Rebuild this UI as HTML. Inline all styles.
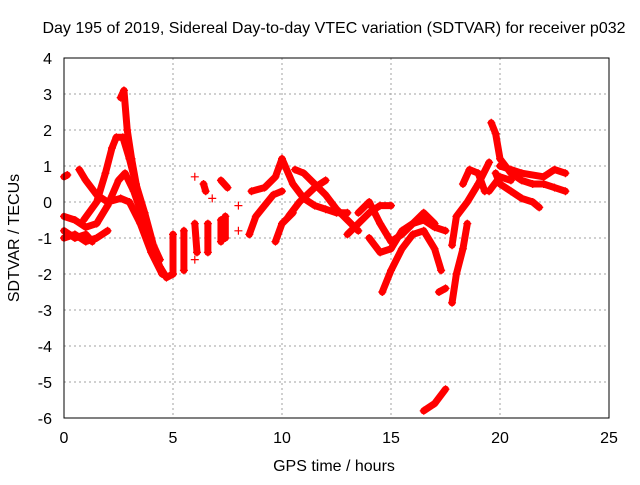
<!DOCTYPE html>
<html><head><meta charset="utf-8"><style>
body{margin:0;background:#fff}
svg text{font-family:"Liberation Sans",sans-serif;font-size:16px;fill:#000}
</style></head><body>
<svg id="chart" width="640" height="480" xmlns="http://www.w3.org/2000/svg">
<rect width="640" height="480" fill="#fff"/>
<g id="grid"></g>
<g id="marks"></g>
<rect x="64" y="58" width="545" height="360" fill="none" stroke="#000" stroke-width="1"/>
<g id="ticks"></g>
<text x="334" y="33" text-anchor="middle">Day 195 of 2019, Sidereal Day-to-day VTEC variation (SDTVAR) for receiver p032</text>
<text x="334" y="471" text-anchor="middle">GPS time / hours</text>
<text x="19" y="238" text-anchor="middle" transform="rotate(-90 19 238)">SDTVAR / TECUs</text>
</svg>
<script>
const xTicks=[0,5,10,15,20,25];
const yTicks=[4,3,2,1,0,-1,-2,-3,-4,-5,-6];
const tracks=[
[[0,-0.4],[0.5,-0.5],[1,-0.7],[1.5,-0.6],[2,-0.1],[2.5,0.6],[2.8,0.8],[3.2,0.3],[3.6,-0.4],[4,-1.2],[4.4,-1.8],[4.7,-2.1],[5,-2.0]],
[[0,-1.0],[0.5,-0.9],[1,-1.1],[1.5,-1.0],[2,-0.8]],
[[0,-0.8],[0.5,-1.0],[1,-0.9],[1.3,-1.1]],
[[0.7,0.9],[1,0.6],[1.5,0.2],[2,0.0],[2.6,0.1],[3,0],[3.5,-0.6],[4,-1.4],[4.5,-2.0]],
[[0.9,-0.5],[1.5,0.0],[1.9,0.8],[2.2,1.5],[2.4,1.8],[2.7,1.8],[3.0,1.2],[3.3,0.5],[3.7,-0.3],[4.1,-1.2],[4.4,-1.6]],
[[2.6,2.9],[2.75,3.1],[2.9,2.0],[3.1,1.2],[3.4,0.2],[3.8,-0.8],[4.2,-1.5]],
[[0,0.7],[0.15,0.75]],
[[5.0,-0.9],[5.0,-2.0]],[[5.5,-0.8],[5.5,-1.9]],[[6.0,-0.6],[6.1,-1.4]],[[6.6,-0.6],[6.6,-1.4]],[[7.2,-0.5],[7.2,-1.1]],[[7.4,-0.4],[7.4,-1.0]],
[[6.0,0.7]],[[6.4,0.5],[6.5,0.3]],[[7.2,0.6],[7.5,0.4]],[[6.8,0.1]],[[8,-0.1]],[[8,-0.8]],[[6,-1.6]],
[[8.5,-0.9],[8.8,-0.4],[9.2,-0.1],[9.6,0.2],[10,0.3]],
[[8.6,0.3],[9.2,0.4],[9.7,0.7],[10,1.2]],
[[9.7,-1.1],[10,-0.6],[10.5,-0.3]],
[[10,1.2],[10.5,0.5],[11,0.1],[11.5,-0.1],[12,-0.2],[12.5,-0.3],[13,-0.3]],
[[10.6,0.9],[11,0.8],[11.5,0.5],[12,0.2],[12.5,-0.2],[13,-0.5],[13.5,-0.8]],
[[10.3,-0.4],[10.8,0],[11.5,0.4],[12,0.6]],
[[13,-0.9],[13.5,-0.6],[14,-0.3],[14.5,-0.1],[15,-0.1]],
[[13.5,-0.3],[14,0],[14.5,-0.6],[15,-1.1],[15.5,-0.9],[16,-0.6],[16.5,-0.5],[17,-0.7],[17.5,-0.8]],
[[14,-1.0],[14.5,-1.4],[15,-1.3],[15.5,-0.8],[16,-0.6],[16.5,-0.3],[17,-0.6]],
[[14.6,-2.5],[15,-1.9],[15.5,-1.3],[16,-0.9],[16.5,-0.8],[17,-1.3],[17.3,-1.9]],
[[16.5,-5.8],[17,-5.6],[17.5,-5.2]],
[[17.2,-2.5],[17.5,-2.4]],
[[17.8,-2.8],[18,-2.0],[18.3,-1.3],[18.5,-0.6]],
[[17.8,-1.2],[18,-0.4],[18.5,0.0],[19,0.5],[19.5,1.1]],
[[18.3,0.5],[18.6,0.9],[19,0.8],[19.3,0.3]],
[[19.6,2.2],[19.8,1.9],[20,1.2],[20.5,0.8],[21,0.6],[21.5,0.5],[22,0.5],[22.5,0.4],[23,0.3]],
[[19.8,0.8],[20,0.5],[20.5,0.3],[21,0.1],[21.5,0.0],[21.8,-0.15]],
[[20,1.0],[20.5,0.9],[21,0.8],[22,0.7],[22.5,0.9],[23,0.8]],
[[19.5,0.3],[20,0.7],[20.5,0.6]]
];
const NS="http://www.w3.org/2000/svg";
const X=h=>64+h*21.8, Y=v=>58+(4-v)*36;
const grid=document.getElementById('grid'), ticks=document.getElementById('ticks'), marks=document.getElementById('marks');
function mk(t,a,p){const e=document.createElementNS(NS,t);for(const k in a)e.setAttribute(k,a[k]);p.appendChild(e);return e;}
xTicks.forEach(t=>{
 if(t>0&&t<25){const g=mk('line',{x1:X(t),x2:X(t),y1:58,y2:418,stroke:'#a0a0a0','stroke-dasharray':'2,3'},grid);
 }
 const l=mk('text',{x:X(t),y:443,'text-anchor':'middle'},ticks);l.textContent=t;
 
});
yTicks.forEach(t=>{
 if(t<4&&t>-6){const g=mk('line',{x1:64,x2:609,y1:Y(t),y2:Y(t),stroke:'#a0a0a0','stroke-dasharray':'2,3'},grid);
 }
 const l=mk('text',{x:52,y:Y(t)+6,'text-anchor':'end'},ticks);l.textContent=t;
 
});
tracks.forEach(tr=>{
 const pts=tr.map(p=>X(p[0])+','+Y(p[1])).join(' ');
 const pl=mk('polyline',{points:pts,fill:'none',stroke:'#ff0000','stroke-width':7,'stroke-linejoin':'round','stroke-linecap':'round'},marks);
 
 
 tr.forEach(p=>{
  const c=mk('path',{d:`M${X(p[0])-4},${Y(p[1])}h8M${X(p[0])},${Y(p[1])-4}v8`,stroke:'#ff0000','stroke-width':1.2},marks);
  
  
 });
});
</script>
</body></html>
